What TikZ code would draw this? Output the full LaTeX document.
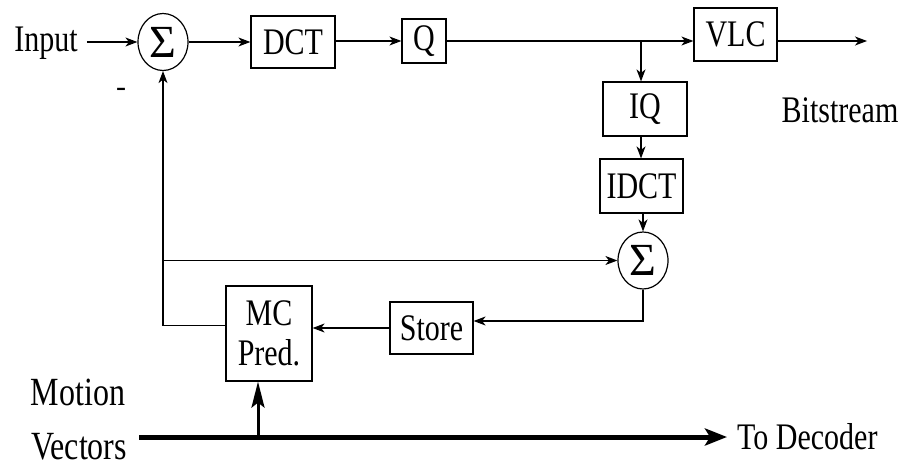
\documentclass[tikz,border=0pt]{standalone}
\usepackage{graphicx}
\usepackage{fontspec}
\setmainfont{Liberation Serif}
\usetikzlibrary{arrows.meta,shapes.geometric}
% labels are set a little taller than the font's natural shape
\newcommand\tx[1]{\scalebox{1}[1.25]{#1}}
\begin{document}
\begin{tikzpicture}[x=1pt,y=-1pt,
  font=\fontsize{30}{40}\selectfont,
  wire/.style={line width=1.2pt},
  flow/.style={wire,-{Stealth[length=12pt,width=9pt,inset=3.5pt]}},
  blk/.style={draw,line width=1.2pt,inner sep=0pt,align=center},
  sum/.style={draw,ellipse,line width=1.2pt,inner sep=0pt,
    minimum width=50pt,minimum height=57pt,font=\fontsize{46}{46}\selectfont},
  lbl/.style={inner sep=0pt},
  mv/.style={line width=5pt,-{Stealth[length=22pt,width=17pt,inset=5pt]}},
  mvup/.style={line width=3pt,-{Stealth[length=26pt,width=13pt,inset=5pt]}}]
\useasboundingbox (0,0) rectangle (909,468);

% encoder forward path
\node[lbl,anchor=base] (input) at (46,52) {\tx{Input}};
\node[sum] (s1) at (163,42) {Σ};
\node[lbl,anchor=base] (minus) at (121,97) {-};
\node[blk,minimum width=84pt,minimum height=52pt] (dct) at (293,42) {\tx{DCT}};
\node[blk,minimum width=44pt,minimum height=44pt] (q) at (424,41) {\tx{Q}};
\node[blk,minimum width=83pt,minimum height=53pt] (vlc) at (735.5,34.5) {\tx{VLC}};
\node[lbl,anchor=base] (bits) at (840,122) {\tx{Bitstream}};
\coordinate (br) at (641,41);
\coordinate (bsout) at (867,41);

% local decoder loop
\node[blk,minimum width=84pt,minimum height=54pt] (iq) at (645,109) {\tx{IQ}};
\node[blk,minimum width=83pt,minimum height=54pt] (idct) at (641.5,186) {\tx{IDCT}};
\node[sum] (s2) at (643,260.5) {Σ};
\node[blk,minimum width=83pt,minimum height=52pt] (st) at (431.5,328) {\tx{Store}};
\node[blk,minimum width=86pt,minimum height=95pt] (mc) at (269,333.5) {\tx{MC}\\\tx{Pred.}};

% motion vectors
\node[lbl,anchor=base,font=\fontsize{32}{40}\selectfont] (mot) at (78,405) {\tx{Motion}};
\node[lbl,anchor=base,font=\fontsize{32}{40}\selectfont] (vec) at (79,459) {\tx{Vectors}};
\node[lbl,anchor=base west] (dec) at (737,449) {\tx{To Decoder}};
\coordinate (mvA) at (139,437);
\coordinate (mvB) at (727,437);
\coordinate (mvT) at (258,437);

% forward connectors
\draw[flow] ([xshift=9pt]input.east |- s1.west) -- (s1.west);
\draw[flow] (s1.east) -- (s1.east -| dct.west);
\draw[flow] (dct.east |- q.west) -- (q.west);
\draw[flow] (q.east) -- (q.east -| vlc.west);
\draw[flow] (q.east -| vlc.east) -- (bsout);
\draw[flow] (br) -- (br |- iq.north);
\draw[flow] (br |- iq.south) -- (br |- idct.north);
\draw[flow] (idct.south -| s2.north) -- (s2.north);

% feedback connectors
\draw[flow] (s2.south) |- ([yshift=7pt]st.east);
\draw[flow] (st.west) -- (st.west -| mc.east);
\draw[flow] ([yshift=8pt]mc.west) -| (s1.south);
\draw[flow] (s1.south |- s2.west) -- (s2.west);

% motion vector bus
\draw[mv] (mvA) -- (mvB);
\draw[mvup] (mvT) -- (mvT |- mc.south);
\end{tikzpicture}
\end{document}
